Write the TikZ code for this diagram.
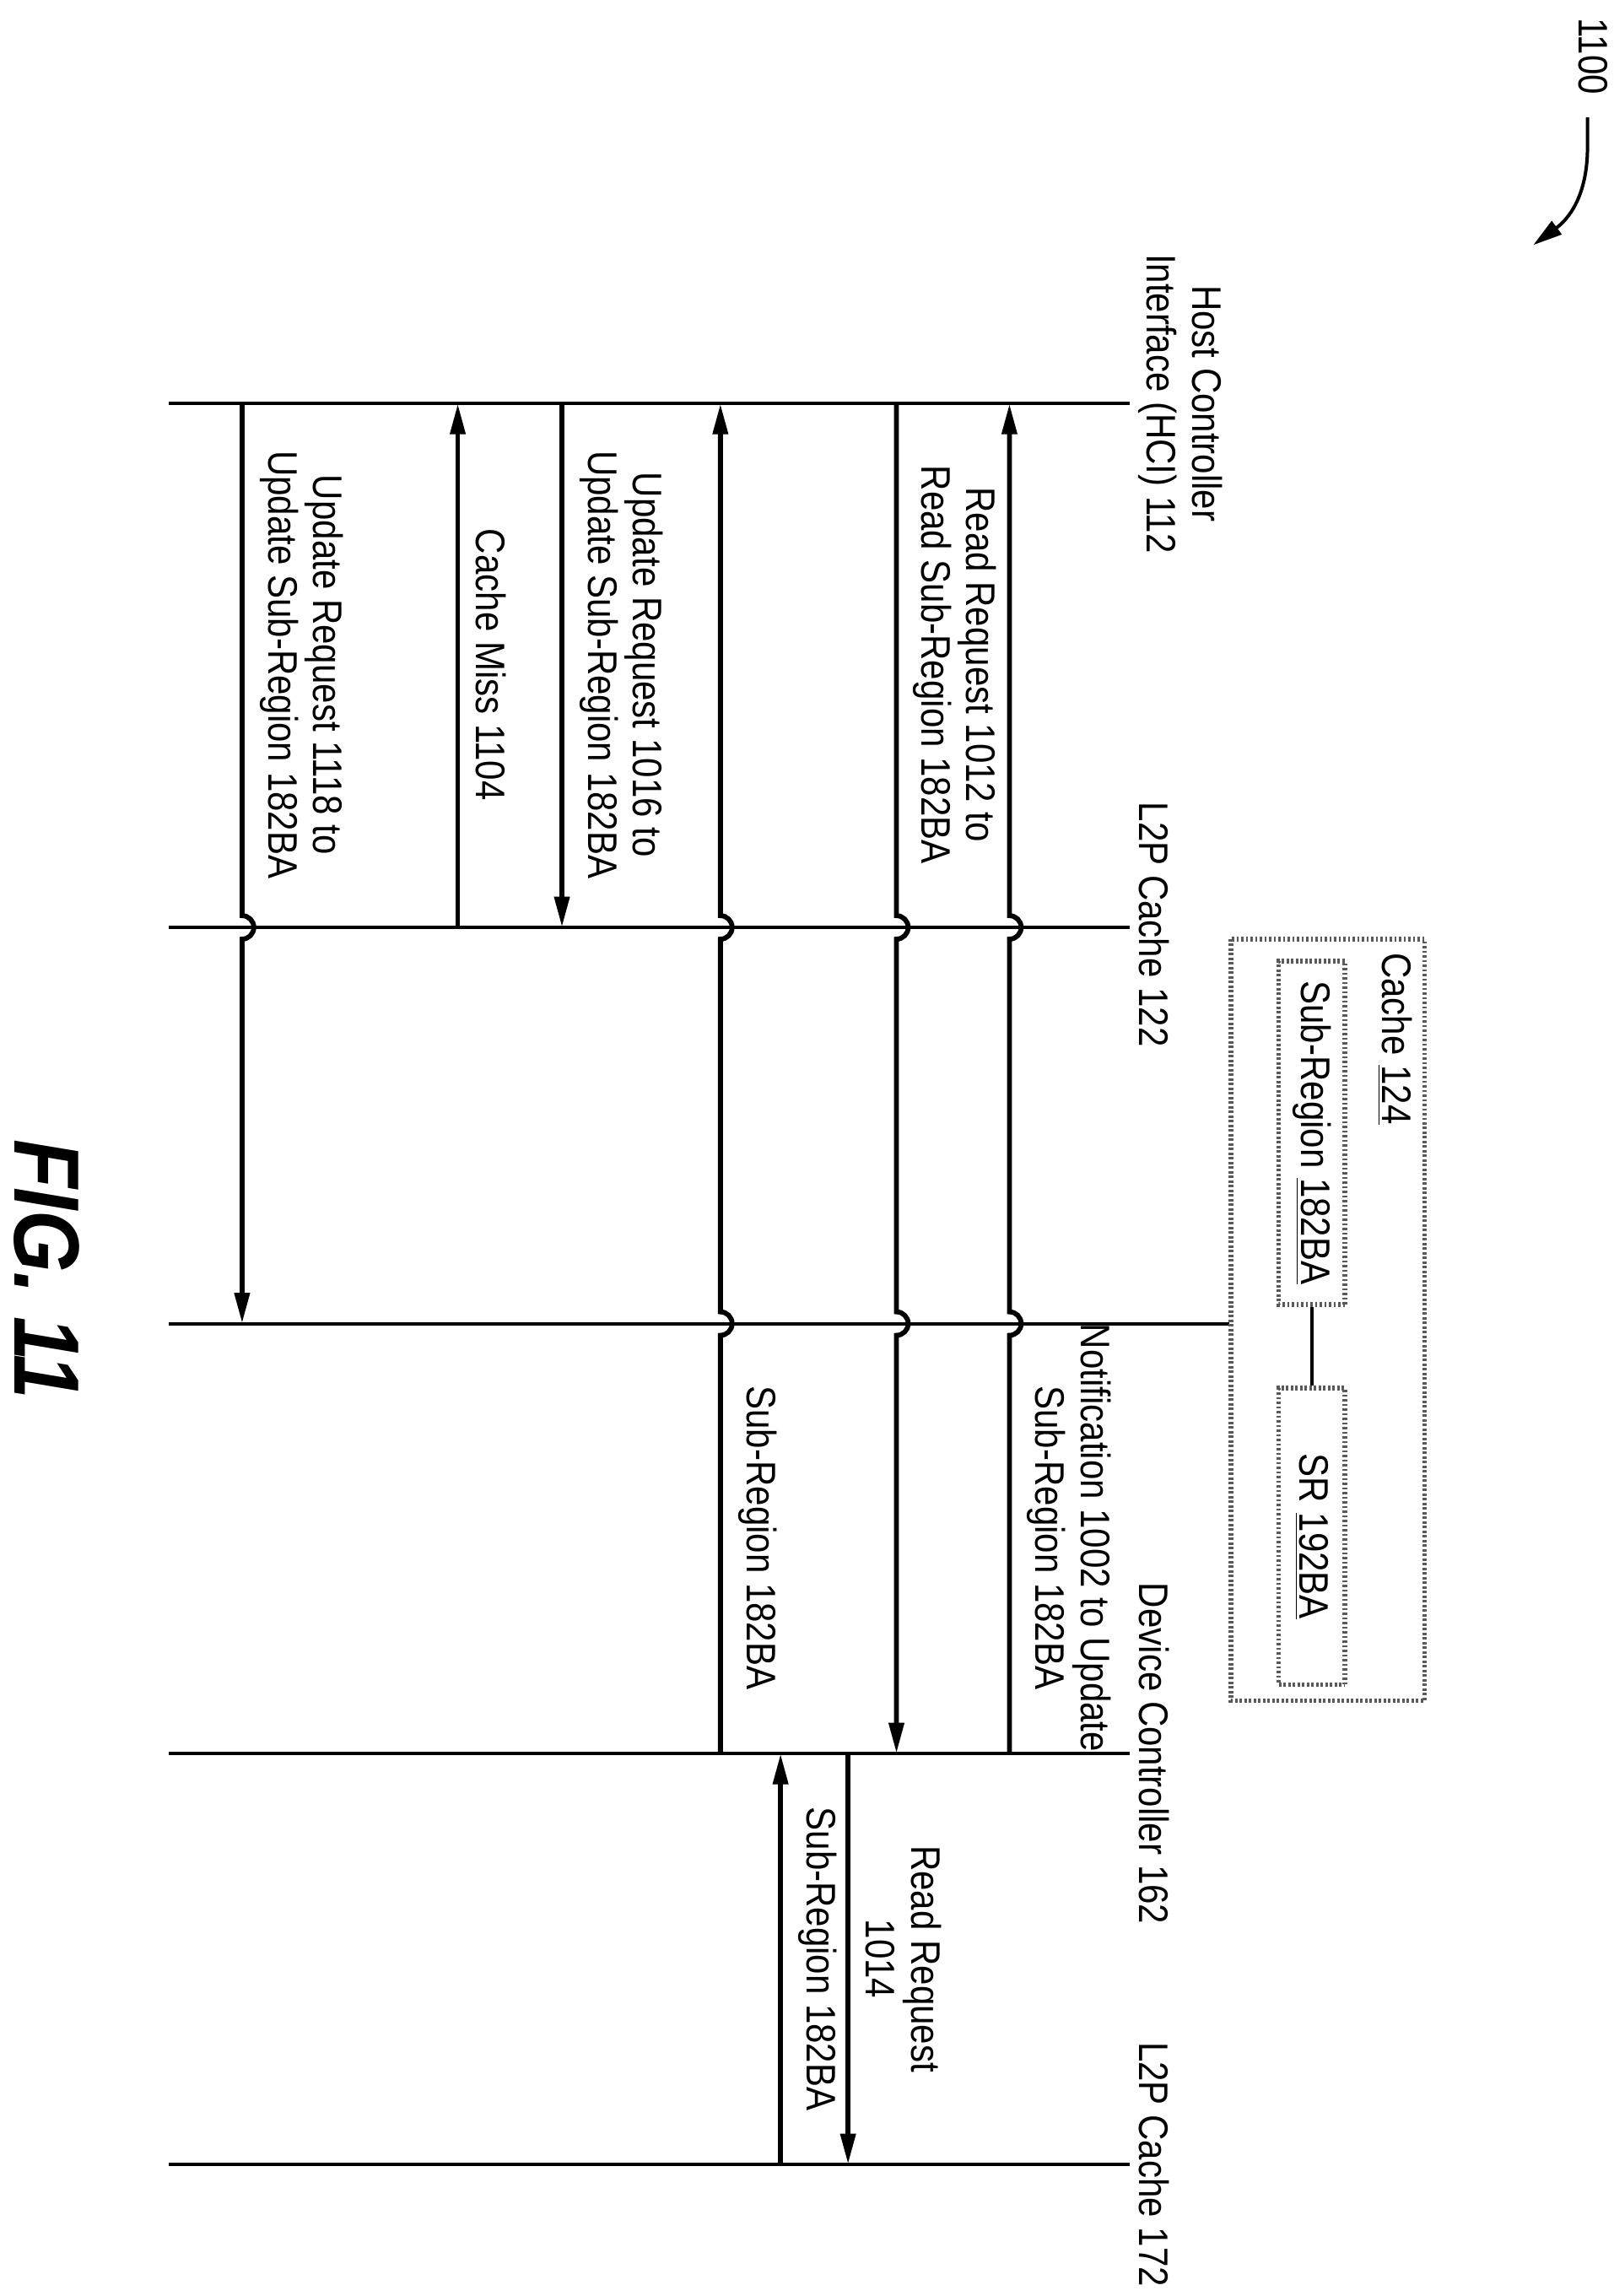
\documentclass[tikz,border=0pt]{standalone}
\usepackage{fontspec}
\setmainfont{Liberation Sans}[FakeStretch=0.86]
\usetikzlibrary{arrows.meta,calc,positioning}
\tikzset{
  life/.style={line width=1.3pt},
  msg/.style={line width=1.9pt,-{Triangle[length=0.42cm,width=0.2cm]}},
  lbl/.style={rotate=-90,anchor=south,align=center,inner sep=1pt,font=\fontsize{16}{17.5}\selectfont},
  cbox/.style={draw=black!65,line width=1.8pt,dash pattern=on 0.9pt off 0.9pt},
}
\begin{document}
\begin{tikzpicture}[x=0.02cm,y=0.02cm]
  \useasboundingbox (0,0) rectangle (1100,-1564.7);
  % lifelines
  \coordinate (hci)   at (770,-275);
  \coordinate (l2pa)  at (770,-632);
  \coordinate (cache) at (838,-902);
  \coordinate (devc)  at (770,-1195);
  \coordinate (l2pb)  at (770,-1475);
  \draw[life] (115,-275) -- (hci);
  \draw[life] (115,-632) -- (l2pa);
  \draw[life] (115,-902) -- (cache);
  \draw[life] (115,-1195) -- (devc);
  \draw[life] (115,-1475) -- (l2pb);
  \node[lbl] at (774,-275) {Host Controller\\Interface (HCI) 112};
  \node[lbl] at (774,-630) {L2P Cache 122};
  \node[lbl] at (774,-1195) {Device Controller 162};
  \node[lbl] at (774,-1475) {L2P Cache 172};

  % cache 124
  \draw[cbox] (839,-640) rectangle (971,-1159);
  \node[rotate=-90,anchor=north west,inner sep=0pt,font=\fontsize{16}{17.5}\selectfont] (ctitle) at (963,-649) {Cache \underline{124}};
  \node[cbox,rotate=-90,minimum width=4.68cm,minimum height=0.9cm,inner sep=0pt,font=\fontsize{16}{17.5}\selectfont] (sub) at (894,-772) {Sub-Region \underline{182BA}};
  \node[cbox,rotate=-90,minimum width=4.04cm,minimum height=0.9cm,inner sep=0pt,font=\fontsize{16}{17.5}\selectfont] (sr) at (894,-1047) {SR \underline{192BA}};
  \draw[life] (sub) -- (sr);

  % message times
  \coordinate (t1) at (688,0);
  \coordinate (t2) at (611,0);
  \coordinate (t3) at (578,0);
  \coordinate (t4) at (532,0);
  \coordinate (t5) at (491,0);
  \coordinate (t6) at (383,0);
  \coordinate (t7) at (312,0);
  \coordinate (t8) at (165,0);

  \draw[msg] (t1 |- devc) -- ($(t1 |- cache)+(0,-8)$) arc[start angle=-90,end angle=90,radius=0.16cm]
     -- ($(t1 |- l2pa)+(0,-8)$) arc[start angle=-90,end angle=90,radius=0.16cm] -- (t1 |- hci);
  \draw[msg] (t2 |- hci) -- ($(t2 |- l2pa)+(0,8)$) arc[start angle=90,end angle=-90,radius=0.16cm]
     -- ($(t2 |- cache)+(0,8)$) arc[start angle=90,end angle=-90,radius=0.16cm] -- (t2 |- devc);
  \draw[msg] (t3 |- devc) -- (t3 |- l2pb);
  \draw[msg] (t4 |- l2pb) -- (t4 |- devc);
  \draw[msg] (t5 |- devc) -- ($(t5 |- cache)+(0,-8)$) arc[start angle=-90,end angle=90,radius=0.16cm]
     -- ($(t5 |- l2pa)+(0,-8)$) arc[start angle=-90,end angle=90,radius=0.16cm] -- (t5 |- hci);
  \draw[msg] (t6 |- hci) -- (t6 |- l2pa);
  \draw[msg] (t7 |- l2pa) -- (t7 |- hci);
  \draw[msg] (t8 |- hci) -- ($(t8 |- l2pa)+(0,8)$) arc[start angle=90,end angle=-90,radius=0.16cm] -- (t8 |- cache);

  \node[lbl] at (698,-1048) {Notification 1002 to Update\\Sub-Region 182BA};
  \node[lbl] at (620,-453) {Read Request 1012 to\\Read Sub-Region 182BA};
  \node[lbl] at (588,-1335) {Read Request\\1014};
  \node[lbl] at (542,-1335) {Sub-Region 182BA};
  \node[lbl] at (501,-1048) {Sub-Region 182BA};
  \node[lbl] at (393,-453) {Update Request 1016 to\\Update Sub-Region 182BA};
  \node[lbl] at (322,-453) {Cache Miss 1104};
  \node[lbl] at (175,-453) {Update Request 1118 to\\Update Sub-Region 182BA};

  % figure number
  \node[rotate=-90,inner sep=0pt,font=\fontsize{36}{40}\bfseries\itshape\selectfont] (fig) at (32,-865) {FIG. 11};
  \node[rotate=-90,anchor=north west,inner sep=0pt,font=\fontsize{16}{17.5}\selectfont] (ref) at (1096,-12) {1100};
  \draw[line width=1.3pt,-{Triangle[length=0.4cm,width=0.22cm]}] (1082,-80) -- (1082,-100)
     .. controls (1082,-135) and (1068,-150) .. (1045,-167);
\end{tikzpicture}
\end{document}
